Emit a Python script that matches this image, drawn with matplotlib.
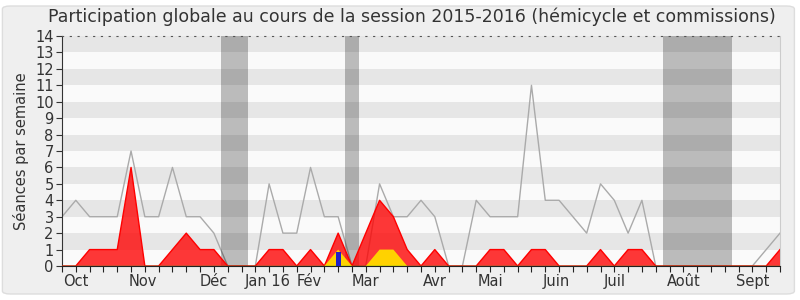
import numpy as np
import matplotlib.pyplot as plt
from matplotlib.patches import FancyBboxPatch

# one value per week, session 2015-2016 (53 weeks)
weeks = np.arange(53)
total = [3, 4, 3, 3, 3, 7, 3, 3, 6, 3, 3, 2, 0, 0, 0, 5, 2, 2, 6, 3,
         3, 0, 0, 5, 3, 3, 4, 3, 0, 0, 4, 3, 3, 3, 11, 4, 4, 3, 2, 5,
         4, 2, 4, 0, 0, 0, 0, 0, 0, 0, 0, 1, 2]
presence = [0, 0, 1, 1, 1, 6, 0, 0, 1, 2, 1, 1, 0, 0, 0, 1, 1, 0, 1, 0,
            2, 0, 2, 4, 3, 1, 0, 1, 0, 0, 0, 1, 1, 0, 1, 1, 0, 0, 0, 1,
            0, 1, 1, 0, 0, 0, 0, 0, 0, 0, 0, 0, 1]
interventions = [0] * 53
interventions[20] = 1
interventions[23] = 1
interventions[24] = 1
question_weeks = [20]
question_values = [0.85]
vacances = [(11.5, 13.5), (20.5, 21.5), (43.5, 48.5)]

month_pos = [1, 5.85, 11, 14.9, 17.9, 22, 27, 31, 35.8, 40, 45, 50]
month_labels = ['Oct', 'Nov', 'Déc', 'Jan 16', 'Fév', 'Mar', 'Avr', 'Mai',
                'Juin', 'Juil', 'Août', 'Sept']

txt = '#333333'

fig = plt.figure(figsize=(8, 3), dpi=100, facecolor='white')
panel = FancyBboxPatch((0.003, 0.02), 0.99, 0.96, boxstyle='round,pad=0,rounding_size=0.01',
                       transform=fig.transFigure, facecolor='#efefef', edgecolor='#dddddd',
                       linewidth=1, zorder=-10)
fig.patches.append(panel)

ax = fig.add_axes([62 / 800, 34 / 300, 718 / 800, 230 / 300])
ax.set_facecolor('#fafafa')
for k in range(1, 14, 2):
    ax.axhspan(k, k + 1, color='#e6e6e6', lw=0, zorder=0)

ax.plot(weeks, total, color='#aaaaaa', lw=1, zorder=1)
for a, b in vacances:
    ax.axvspan(a, b, color='black', alpha=0.25, lw=0, zorder=2)

ax.fill_between(weeks, presence, 0, facecolor='#ff0000', alpha=0.78, lw=0, zorder=3)
ax.plot(weeks, presence, color='#ff0000', lw=1, zorder=3)
ax.fill_between(weeks, interventions, 0, facecolor='#ffd200', lw=0, zorder=4)
ax.plot(weeks, [0] * 53, color='#22aa22', lw=1, zorder=5)
ax.bar(question_weeks, question_values, width=0.36, color='#2020c8', zorder=6)

ax.set_xlim(0, 52)
ax.set_ylim(0, 14)
ax.set_yticks(range(15))
ax.tick_params(axis='y', direction='out', length=4, labelsize=10.5, colors=txt, pad=2)
ax.set_xticks(weeks)
ax.set_xticklabels([])
ax.tick_params(axis='x', direction='out', length=4, color='#222222')
# month names under the week ticks
for pos, lab in zip(month_pos, month_labels):
    ax.text(pos, -0.035, lab, transform=ax.get_xaxis_transform(), ha='center', va='top',
            fontsize=10.5, color=txt)

ax.spines['top'].set_linestyle((0, (1, 6)))
ax.spines['top'].set_color('#555555')
ax.spines['right'].set_color('#cccccc')
ax.spines['left'].set_color('#333333')
ax.spines['bottom'].set_color('#222222')

ax.set_ylabel('Séances par semaine', fontsize=10.5, color=txt, labelpad=4)
fig.text(0.515, 0.975, 'Participation globale au cours de la session 2015-2016 (hémicycle et commissions)',
         ha='center', va='top', fontsize=12.5, color=txt)

fig.savefig('out.png', dpi=100, facecolor=fig.get_facecolor())
